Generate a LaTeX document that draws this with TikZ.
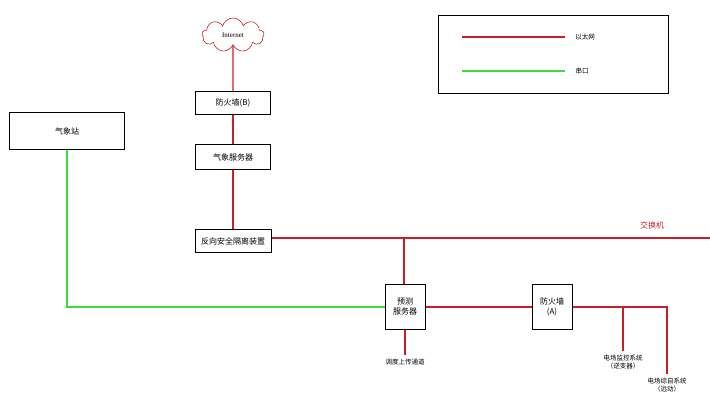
\documentclass[tikz,border=0pt]{standalone}
\usepackage{fontspec}
\setmainfont{Liberation Serif}
\newfontfamily\cjk{Noto Sans CJK SC}
\usetikzlibrary{shapes.symbols,backgrounds}
\definecolor{ethred}{RGB}{200,30,40}
\definecolor{serialgreen}{RGB}{60,220,60}
\tikzset{%
device/.style={draw,thick,fill=white,font=\cjk\fontsize{8}{10}\selectfont,align=center,inner sep=1pt},
eth/.style={draw=ethred,line width=1.2pt},
serial/.style={draw=serialgreen,line width=1.5pt},
caption/.style={font=\cjk\fontsize{6.5}{8}\selectfont,align=center}
}
\begin{document}
\begin{tikzpicture}[x=1pt,y=-1pt]
\useasboundingbox (0,0) rectangle (710,407);
\node[cloud,draw=ethred,semithick,cloud puffs=9,aspect=2,minimum width=62,minimum height=34,font=\fontsize{7}{8}\selectfont]
                                      (inet)  at (233,35)  {Internet};
\node[device,minimum width=75,minimum height=23] (fwb)   at (233,103) {防火墙(B)};
\node[device,minimum width=75,minimum height=25] (wsrv)  at (233,157) {气象服务器};
\node[device,minimum width=76,minimum height=23] (iso)   at (233,241) {反向安全隔离装置};
\node[device,minimum width=115,minimum height=37](wst)   at (67,131)  {气象站};
\node[device,minimum width=40,minimum height=45] (fsrv)  at (405,307) {预测\\服务器};
\node[device,minimum width=40,minimum height=45] (fwa)   at (552,307) {防火墙\\(A)};
\coordinate (swend) at (710,238);
\coordinate (tap)   at (404,238);
\coordinate (cdrop) at (667,307);
\coordinate (mdrop) at (623,307);
\node[caption,text=ethred,font=\cjk\fontsize{8}{10}\selectfont] (swlab) at (652,225) {交换机};
\node[caption] (upl)  at (405,362) {调度上传通道};
\node[caption] (mon)  at (623,362) {电场监控系统\\（逆变器）};
\node[caption] (comp) at (667,385) {电场综自系统\\（远动）};
\node[caption] (ethlab) at (585,37) {以太网};
\node[caption] (serlab) at (582,71) {串口};

\begin{scope}[on background layer]
\draw[eth] (inet) -- (fwb);
\draw[eth] (fwb) -- (wsrv);
\draw[eth] (wsrv) -- (iso);
\draw[eth] (iso.east |- swend) -- (swend);
\draw[eth] (tap) -- (tap |- fsrv.north);
\draw[eth] (fsrv) -- (fwa);
\draw[eth] (fsrv.south) -- (upl.north);
\draw[eth] (fwa.east) -- (cdrop) -- (cdrop |- comp.north);
\draw[eth] (mdrop) -- (mon.north);
\draw[serial] (wst.south) |- (fsrv.west);
% legend
\draw[line width=1pt] (438,15) rectangle (668,93);
\draw[eth] (462,37) -- (565,37);
\draw[serial] (462,71) -- (565,71);
\end{scope}
\end{tikzpicture}
\end{document}
